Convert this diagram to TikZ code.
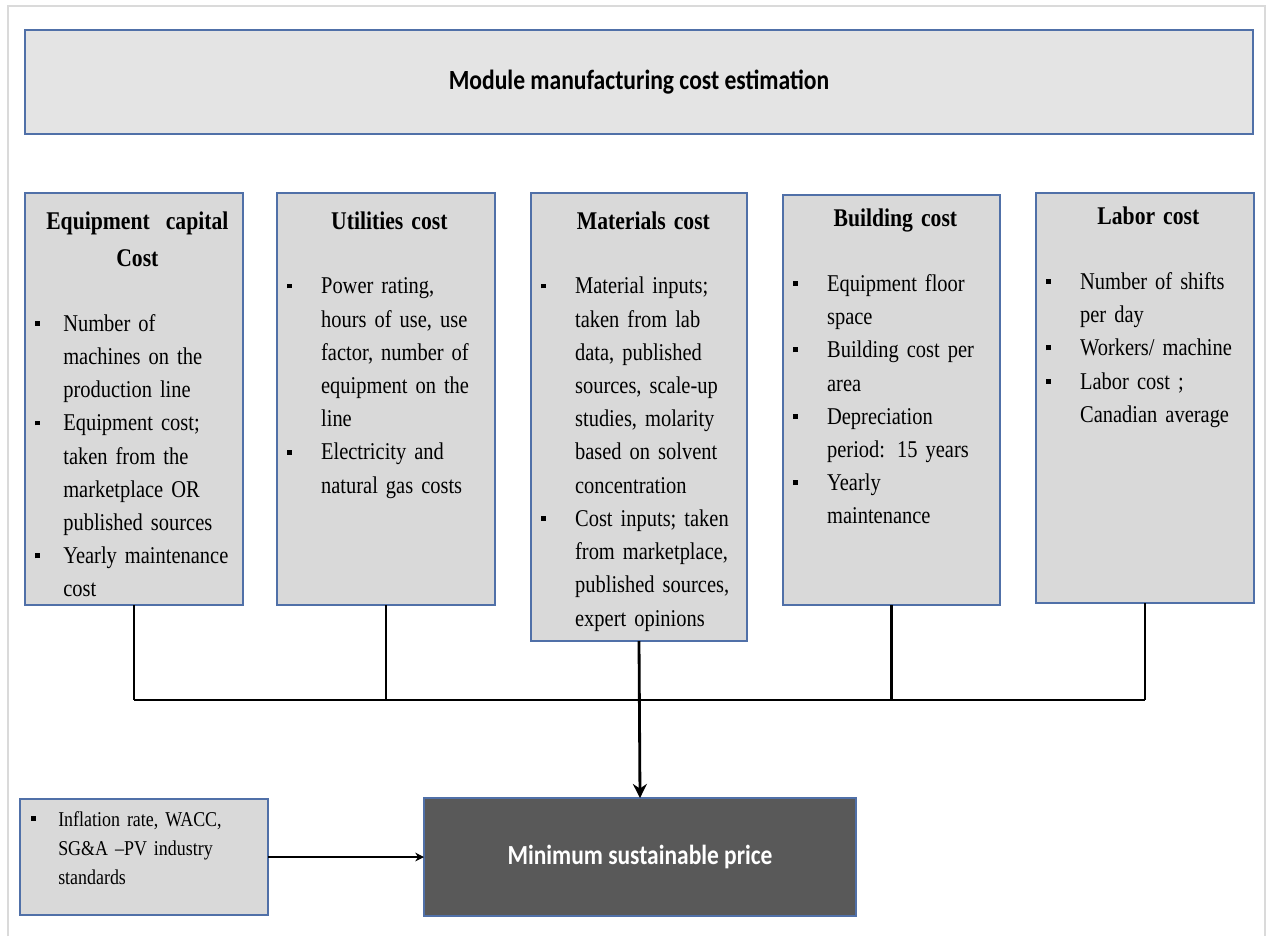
\documentclass[tikz,border=0pt]{standalone}
\usepackage{fontspec}
\usetikzlibrary{arrows.meta}
\setmainfont{Liberation Serif}[FakeStretch=0.85]
\newfontfamily\calibri{Carlito}[FakeStretch=0.85]
\definecolor{boxgray}{HTML}{D9D9D9}
\definecolor{hdrgray}{HTML}{E4E4E4}
\definecolor{darkbox}{HTML}{595959}
\definecolor{edgeblue}{HTML}{5070A8}
\definecolor{framegray}{HTML}{DADADA}
% bullet item with hanging indent, end each item with \par
\newcommand{\bul}[1][19.5pt]{\hangindent=#1\hangafter=1\noindent\makebox[#1][l]{\rule[3.1pt]{2.8pt}{2.8pt}}\ignorespaces}
\newcommand{\boxtitle}[1]{{\fontsize{14.5pt}{21pt}\selectfont\bfseries\centering #1\par}\vspace{18pt}}

\begin{document}
\begin{tikzpicture}[
		box/.style={draw=edgeblue,line width=0.8pt,fill=boxgray,minimum width=4.36cm,minimum height=8.24cm,inner sep=0pt,outer sep=0pt},
		txt/.style={anchor=north west,inner sep=0pt,text width=4.1cm,align=left,font=\fontsize{13.7pt}{18.9pt}\selectfont},
		link/.style={line width=1.3pt},
		bus/.style={line width=1.6pt}]
			\useasboundingbox (0,0) rectangle (25.32,-18.72);
			\draw[framegray,line width=1.5pt] (0.16,-18.72) -- (0.16,-0.12) -- (25.30,-0.12) -- (25.30,-18.72);

			\node[box,fill=hdrgray,minimum width=24.56cm,minimum height=2.08cm] (hdr) at (12.78,-1.64) {\calibri\bfseries\fontsize{15.8pt}{19pt}\selectfont Module manufacturing cost estimation};

			\node[box] (eq_cap) at (2.68,-7.98) {};
			\node[box] (util) at (7.72,-7.98) {};
			\node[box,minimum width=4.32cm,minimum height=8.96cm] (mat) at (12.78,-8.34) {};
			\node[box,minimum width=4.34cm,minimum height=8.20cm] (bldg) at (17.83,-8.00) {};
			\node[box,minimum height=8.20cm] (labor) at (22.90,-7.96) {};

			\node[txt] (eq_cap_txt) at ([xshift=0.19cm,yshift=-0.37cm]eq_cap.north west) {%
				\boxtitle{Equipment\ \ capital\\Cost}%
				\bul[16.2pt] Number of\newline machines on the\newline production line\par
				\bul[16.2pt] Equipment cost;\newline taken from the\newline marketplace OR\newline published sources\par
				\bul[16.2pt] Yearly maintenance\newline cost\par};
			\node[txt] (util_txt) at ([xshift=0.19cm,yshift=-0.36cm]util.north west) {%
				\boxtitle{Utilities cost}%
				\bul Power rating,\newline hours of use, use\newline factor, number of\newline equipment on the\newline line\par
				\bul Electricity and\newline natural gas costs\par};
			\node[txt] (mat_txt) at ([xshift=0.19cm,yshift=-0.36cm]mat.north west) {%
				\boxtitle{Materials cost}%
				\bul Material inputs;\newline taken from lab\newline data, published\newline sources, scale-up\newline studies, molarity\newline based on solvent\newline concentration\par
				\bul Cost inputs; taken\newline from marketplace,\newline published sources,\newline expert opinions\par};
			\node[txt] (bldg_txt) at ([xshift=0.19cm,yshift=-0.27cm]bldg.north west) {%
				\boxtitle{Building cost}%
				\bul Equipment floor\newline space\par
				\bul Building cost per\newline area\par
				\bul Depreciation\newline period: 15 years\par
				\bul Yearly\newline maintenance\par};
			\node[txt] (labor_txt) at ([xshift=0.19cm,yshift=-0.27cm]labor.north west) {%
				\boxtitle{Labor cost}%
				\bul Number of shifts\newline per day\par
				\bul Workers/ machine\par
				\bul Labor cost ;\newline Canadian average\par};

			\node[box,minimum width=4.96cm,minimum height=2.32cm] (infl) at (2.88,-17.14) {};
			\node[txt,text width=4.6cm,font=\fontsize{12pt}{16.7pt}\selectfont] (infl_txt) at ([xshift=0.21cm,yshift=-0.24cm]infl.north west) {%
				\bul[15.6pt] Inflation rate, WACC,\newline SG\&A –PV industry\newline standards\par};
			\node[box,fill=darkbox,minimum width=8.64cm,minimum height=2.36cm,text=white] (msp) at (12.80,-17.14) {\calibri\bfseries\fontsize{15.7pt}{19pt}\selectfont Minimum sustainable price};

			\coordinate (bus) at (0,-14.00);
			\draw[link] (eq_cap.south) -- (eq_cap.south |- bus);
			\draw[link] (util.south) -- (util.south |- bus);
			\draw[link] (bldg.south) -- (bldg.south |- bus);
			\draw[link] (labor.south) -- (labor.south |- bus);
			\draw[bus] (eq_cap.south |- bus) -- (labor.south |- bus);
			\draw[-{Stealth[length=8pt,width=8pt]},bus] (mat.south) -- (msp.north);
			\draw[-{Stealth[length=5pt,width=5pt]},line width=0.6pt] (infl.east) -- (msp.west);
		\end{tikzpicture}
\end{document}
